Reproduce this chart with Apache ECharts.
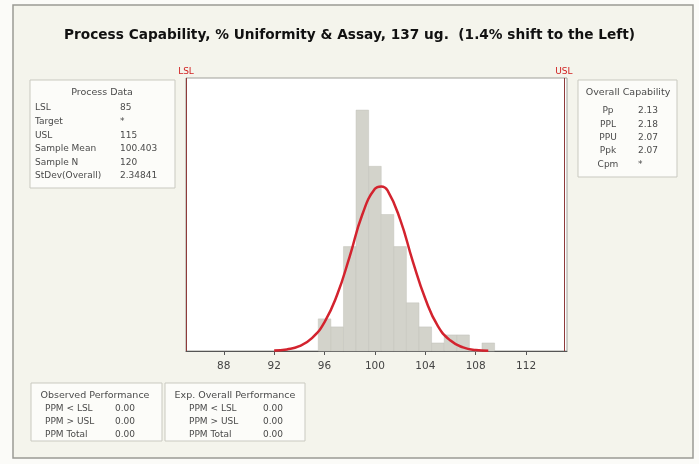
<!DOCTYPE html>
<html>
<head>
<meta charset="utf-8">
<script src="https://cdn.jsdelivr.net/npm/echarts@6/dist/echarts.min.js"></script>
<style>
  html, body { margin: 0; padding: 0; background: #fbfbf8; }
  #main { width: 699px; height: 464px; }
</style>
</head>
<body>
<div id="main"></div>
<script>
// histogram bins (centre of each 1-unit bin) and counts
const binCenters = [96, 97, 98, 99, 100, 101, 102, 103, 104, 105, 106, 107, 108, 109];
const binCounts = [4, 3, 13, 30, 23, 17, 13, 6, 3, 1, 2, 2, 0, 1];
const binWidth = 1;

// fitted normal curve
const curveX = [92, 93, 94, 95, 96, 97, 98, 99, 100, 100.5, 101, 102, 103, 104, 105, 106, 107, 108, 109];
const curveY = [0.05, 0.2, 0.6, 1.6, 3.6, 7.0, 11.8, 17.0, 20.2, 20.5, 20.0, 16.4, 11.2, 6.5, 3.1, 1.3, 0.45, 0.12, 0.03];

const xTicks = [88, 92, 96, 100, 104, 108, 112];
const lsl = 85;
const usl = 115;

const processData = [
    ['LSL', '85'],
    ['Target', '*'],
    ['USL', '115'],
    ['Sample Mean', '100.403'],
    ['Sample N', '120'],
    ['StDev(Overall)', '2.34841']
];
const overallCap = [
    ['Pp', '2.13'],
    ['PPL', '2.18'],
    ['PPU', '2.07'],
    ['Ppk', '2.07'],
    ['Cpm', '*']
];
const observedPerf = [
    ['PPM < LSL', '0.00'],
    ['PPM > USL', '0.00'],
    ['PPM Total', '0.00']
];
const expectedPerf = [
    ['PPM < LSL', '0.00'],
    ['PPM > USL', '0.00'],
    ['PPM Total', '0.00']
];

const chart = echarts.init(document.getElementById('main'));

const font = 'DejaVu Sans';
const txtColor = '#4a4a4a';

function statBox(x, y, w, h, title, titleX, rows, labelX, valueX, rowY, rowGap, labelAlign) {
    const kids = [{
        type: 'rect',
        shape: { x: x, y: y, width: w, height: h },
        style: { fill: '#fcfcf9', stroke: '#c9c9c0', lineWidth: 1 }
    }, {
        type: 'text',
        x: titleX, y: y + 13,
        style: { text: title, fill: txtColor, font: '9.5px ' + font, align: 'center', verticalAlign: 'middle' }
    }];
    rows.forEach(function (r, i) {
        kids.push({
            type: 'text', x: labelX, y: rowY + i * rowGap,
            style: { text: r[0], fill: txtColor, font: '9px ' + font, align: labelAlign || 'left', verticalAlign: 'middle' }
        });
        kids.push({
            type: 'text', x: valueX, y: rowY + i * rowGap,
            style: { text: r[1], fill: txtColor, font: '9px ' + font, verticalAlign: 'middle' }
        });
    });
    return { type: 'group', children: kids };
}

const option = {
    backgroundColor: '#fbfbf8',
    animation: false,
    title: {
        text: 'Process Capability, % Uniformity & Assay, 137 ug.  (1.4% shift to the Left)',
        left: 'center',
        top: 23,
        textStyle: { fontFamily: font, fontSize: 13.7, fontWeight: 'bold', color: '#111' }
    },
    graphic: [
        {
            type: 'rect', z: -10,
            shape: { x: 13, y: 5, width: 680, height: 453 },
            style: { fill: '#f4f4ec', stroke: '#9a9a94', lineWidth: 1.5 }
        },
        statBox(30, 80, 145, 108, 'Process Data', 102, processData, 35, 120, 108, 13.6),
        statBox(578, 80, 99, 97, 'Overall Capability', 628, overallCap, 608, 638, 111, 13.3, 'center'),
        statBox(31, 383, 131, 58, 'Observed Performance', 95, observedPerf, 45, 115, 409, 13),
        statBox(165, 383, 140, 58, 'Exp. Overall Performance', 235, expectedPerf, 189, 263, 409, 13)
    ],
    grid: {
        left: 186, right: 132, top: 78, bottom: 113,
        show: true, backgroundColor: '#ffffff', borderColor: '#a0a09a', borderWidth: 1
    },
    xAxis: {
        type: 'value',
        min: 85,
        max: 115.25,
        splitLine: { show: false },
        axisLine: { lineStyle: { color: '#555' } },
        axisTick: { show: true, length: 4, customValues: xTicks, lineStyle: { color: '#555' } },
        axisLabel: {
            customValues: xTicks, color: '#444', fontFamily: font, fontSize: 10.5, margin: 10
        }
    },
    yAxis: {
        type: 'value',
        min: 0,
        max: 34,
        show: false,
        splitLine: { show: false }
    },
    series: [
        {
            type: 'custom',
            renderItem: function (params, api) {
                const c = api.value(0);
                const n = api.value(1);
                const p0 = api.coord([c - binWidth / 2, n]);
                const p1 = api.coord([c + binWidth / 2, 0]);
                return {
                    type: 'rect',
                    shape: { x: p0[0], y: p0[1], width: p1[0] - p0[0], height: p1[1] - p0[1] },
                    style: { fill: '#d3d3cb', stroke: '#c2c2ba', lineWidth: 0.5 }
                };
            },
            encode: { x: 0, y: 1 },
            data: binCenters.map(function (c, i) { return [c, binCounts[i]]; }),
            markLine: {
                silent: true,
                symbol: 'none',
                lineStyle: { color: '#8e3a3a', width: 1, type: 'solid' },
                label: { show: true, position: 'end', color: '#d02020', fontFamily: font, fontSize: 9, distance: 2 },
                data: [
                    { xAxis: lsl, label: { formatter: 'LSL' } },
                    { xAxis: usl, label: { formatter: 'USL' } }
                ]
            },
            z: 2
        },
        {
            type: 'line',
            smooth: true,
            showSymbol: false,
            data: curveX.map(function (x, i) { return [x, curveY[i]]; }),
            lineStyle: { color: '#d3232e', width: 2.5 },
            z: 3
        }
    ]
};

chart.setOption(option);
</script>
</body>
</html>
